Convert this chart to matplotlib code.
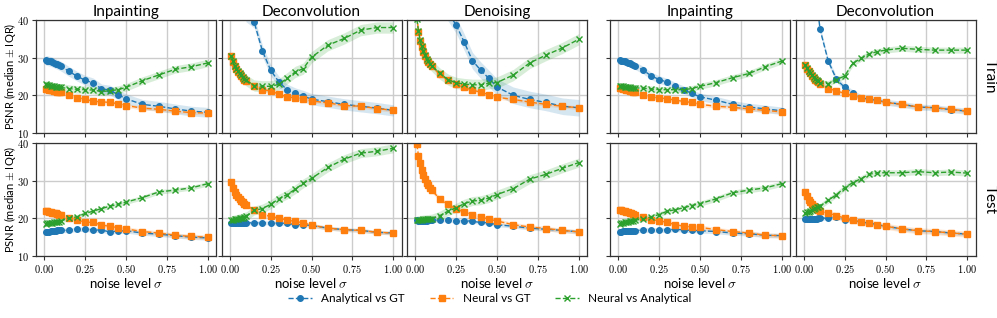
import matplotlib
matplotlib.use("Agg")
import matplotlib.pyplot as plt
import numpy as np

plt.rcParams['font.family'] = ['Lato', 'DejaVu Sans']
plt.rcParams['mathtext.fontset'] = 'cm'

# --- noise levels (shared by every panel) ---
sigma = [0.01, 0.02, 0.03, 0.04, 0.05, 0.06, 0.07, 0.08, 0.09, 0.10,
         0.15, 0.20, 0.25, 0.30, 0.35, 0.40, 0.45, 0.50,
         0.60, 0.70, 0.80, 0.90, 1.00]

titles = ['Inpainting', 'Deconvolution', 'Denoising', 'Inpainting', 'Deconvolution']
rows = ['Train', 'Test']
labels = ['Analytical vs GT', 'Neural vs GT', 'Neural vs Analytical']

# --- Train row: medians ---
tr_ana_1 = [29.3, 29.2, 29.1, 29.0, 28.8, 28.6, 28.4, 28.2, 28.0, 27.8, 26.4, 25.1, 24.0, 23.3, 21.7, 21.4, 20.2, 19.1, 17.6, 17.1, 16.4, 15.8, 15.5]
tr_neu_1 = [21.8, 21.6, 21.5, 21.4, 21.3, 21.2, 21.1, 21.0, 20.9, 20.8, 20.2, 19.4, 19.0, 18.4, 18.3, 18.1, 17.8, 17.3, 16.6, 16.3, 15.8, 15.4, 15.3]
tr_na_1 = [22.9, 22.8, 22.7, 22.6, 22.5, 22.4, 22.3, 22.2, 22.2, 22.1, 21.8, 21.6, 21.5, 21.4, 21.0, 21.2, 21.5, 22.1, 23.9, 25.4, 26.9, 27.6, 28.6]

tr_ana_2 = [70, 64, 60, 57, 54, 51, 48, 45, 43, 41, 39.4, 31.8, 26.7, 23.6, 21.5, 20.5, 19.8, 19.0, 18.3, 17.6, 17.1, 16.6, 16.0]
tr_neu_2 = [30.4, 28.9, 27.8, 27.0, 26.2, 25.6, 25.1, 24.6, 24.2, 23.8, 22.6, 21.5, 21.2, 20.3, 19.6, 19.3, 19.1, 18.5, 18.0, 17.3, 17.1, 16.5, 16.0]
tr_na_2 = [30.5, 29.0, 27.9, 27.1, 26.4, 25.8, 25.3, 24.8, 24.4, 24.0, 22.6, 22.4, 22.4, 22.9, 24.5, 26.2, 27.1, 30.1, 33.3, 35.1, 37.3, 38.0, 38.0]

tr_ana_3 = [90, 85, 80, 75, 70, 65, 60, 57, 54, 52, 47, 42, 38.7, 34.1, 29.2, 26.7, 24.5, 22.2, 20.0, 18.9, 18.1, 17.1, 16.7]
tr_neu_3 = [41.0, 36.9, 34.5, 32.8, 31.5, 30.4, 29.5, 28.8, 28.2, 27.7, 25.6, 24.0, 22.9, 22.1, 21.4, 20.8, 20.2, 19.5, 18.9, 18.2, 17.6, 17.1, 16.7]
tr_na_3 = [40.3, 37.1, 34.7, 33.0, 31.7, 30.6, 29.7, 29.0, 28.4, 27.9, 25.8, 24.2, 23.3, 23.0, 22.8, 22.8, 23.2, 23.4, 25.4, 28.6, 30.7, 32.6, 34.9]

tr_ana_4 = [29.3, 29.2, 29.1, 29.0, 28.9, 28.7, 28.5, 28.3, 28.1, 27.9, 26.8, 25.2, 24.2, 23.5, 22.4, 21.5, 20.5, 19.6, 18.7, 17.6, 16.9, 16.4, 15.9]
tr_neu_4 = [22.0, 21.9, 21.7, 21.6, 21.5, 21.3, 21.2, 21.1, 20.9, 20.8, 20.0, 19.6, 19.3, 19.1, 18.7, 18.4, 18.1, 17.6, 17.1, 16.8, 16.4, 16.0, 15.6]
tr_na_4 = [22.6, 22.5, 22.4, 22.3, 22.2, 22.1, 22.1, 22.0, 22.0, 22.0, 21.9, 21.7, 21.5, 21.5, 21.5, 21.5, 21.8, 22.4, 23.4, 24.7, 25.8, 27.6, 29.1]

tr_ana_5 = [75, 68, 62, 57, 53, 49, 47, 45, 41.2, 37.5, 29.1, 24.3, 22.1, 20.7, 19.4, 18.9, 18.7, 18.2, 17.6, 16.9, 16.7, 16.2, 15.8]
tr_neu_5 = [28.0, 27.1, 26.4, 25.8, 25.2, 24.6, 24.2, 23.8, 23.5, 23.1, 21.8, 21.2, 20.5, 19.9, 19.3, 18.9, 18.7, 18.1, 17.6, 16.9, 16.7, 16.3, 15.8]
tr_na_5 = [28.1, 27.2, 26.5, 25.9, 25.3, 24.8, 24.4, 24.0, 23.7, 23.3, 23.1, 24.2, 25.1, 28.5, 29.8, 31.0, 31.6, 32.0, 32.5, 32.2, 32.0, 32.0, 32.0]

# --- Test row: medians ---
te_ana_1 = [16.4, 16.5, 16.5, 16.6, 16.6, 16.7, 16.7, 16.8, 16.8, 16.8, 16.8, 17.1, 17.1, 16.9, 16.9, 16.4, 16.6, 16.7, 16.1, 15.8, 15.4, 15.0, 14.8]
te_neu_1 = [22.0, 21.9, 21.8, 21.7, 21.5, 21.4, 21.3, 21.1, 21.0, 20.8, 20.2, 19.6, 19.0, 18.9, 18.2, 17.9, 17.5, 17.2, 16.5, 16.1, 15.5, 15.2, 15.0]
te_na_1 = [18.6, 18.7, 18.7, 18.8, 18.8, 18.9, 19.0, 19.0, 19.1, 19.2, 20.1, 20.4, 21.3, 21.9, 22.6, 23.2, 23.7, 24.3, 25.5, 27.0, 27.5, 28.1, 29.2]

te_ana_2 = [18.7, 18.7, 18.7, 18.7, 18.7, 18.7, 18.7, 18.7, 18.7, 18.8, 18.8, 18.8, 18.8, 18.7, 18.7, 18.3, 18.3, 18.1, 17.4, 17.0, 16.8, 16.3, 16.1]
te_neu_2 = [29.6, 28.1, 27.1, 26.3, 25.7, 25.2, 24.7, 24.3, 23.9, 23.6, 22.1, 21.0, 20.5, 20.1, 19.5, 19.2, 18.8, 18.2, 17.4, 17.0, 16.8, 16.3, 16.1]
te_na_2 = [19.5, 19.6, 19.7, 19.8, 19.9, 20.0, 20.1, 20.2, 20.4, 20.5, 22.1, 22.6, 23.7, 25.2, 26.3, 27.7, 29.3, 30.6, 33.5, 35.7, 37.3, 37.8, 38.6]

te_ana_3 = [19.5, 19.4, 19.4, 19.4, 19.4, 19.4, 19.4, 19.5, 19.5, 19.5, 19.5, 19.6, 19.2, 19.4, 19.2, 18.9, 18.8, 18.3, 17.9, 17.4, 17.1, 16.8, 16.4]
te_neu_3 = [39.7, 36.6, 34.6, 32.9, 31.4, 30.4, 29.5, 28.8, 28.1, 27.5, 25.2, 23.7, 22.5, 21.6, 21.0, 20.4, 19.8, 19.3, 18.3, 17.7, 17.3, 16.8, 16.4]
te_na_3 = [19.5, 19.5, 19.6, 19.6, 19.7, 19.7, 19.8, 19.8, 19.9, 19.9, 20.7, 21.9, 22.8, 23.9, 24.6, 24.8, 25.4, 26.3, 27.9, 30.4, 31.7, 33.3, 34.8]

te_ana_4 = [16.5, 16.5, 16.6, 16.6, 16.6, 16.7, 16.7, 16.7, 16.7, 16.7, 16.9, 16.9, 16.9, 16.9, 17.1, 16.9, 16.8, 16.7, 16.5, 16.1, 15.9, 15.5, 15.4]
te_neu_4 = [22.3, 22.2, 22.0, 21.9, 21.8, 21.6, 21.5, 21.3, 21.2, 21.0, 20.4, 19.6, 19.4, 18.9, 18.3, 17.9, 17.7, 17.6, 17.0, 16.5, 16.1, 15.5, 15.4]
te_na_4 = [18.6, 18.7, 18.8, 18.9, 19.0, 19.1, 19.2, 19.3, 19.4, 19.5, 19.8, 20.4, 21.0, 21.9, 22.3, 22.8, 23.4, 23.9, 25.2, 26.8, 27.5, 28.1, 29.2]

te_ana_5 = [19.9, 19.9, 19.9, 19.9, 19.9, 19.9, 19.9, 19.9, 20.0, 20.0, 20.1, 20.4, 19.6, 19.6, 18.9, 18.8, 18.3, 17.9, 17.2, 16.7, 16.5, 16.1, 15.8]
te_neu_5 = [27.0, 25.9, 25.0, 24.3, 23.7, 23.2, 22.8, 22.5, 22.1, 21.9, 21.4, 20.7, 20.1, 19.6, 18.9, 18.8, 18.3, 17.9, 17.2, 16.7, 16.5, 16.1, 15.8]
te_na_5 = [21.4, 21.6, 21.8, 22.0, 22.3, 22.5, 22.7, 22.9, 23.0, 23.2, 24.8, 26.3, 28.1, 29.5, 30.5, 31.7, 32.1, 32.1, 32.1, 32.4, 32.1, 32.3, 32.0]

# --- half IQR (band half-width) per panel ---
tr_iqr_ana = [1.3, 1.5, 2.2, 1.0, 0.8]
tr_iqr_neu = [0.5, 0.5, 0.5, 0.5, 0.5]
tr_iqr_na = [1.0, 1.5, 1.5, 0.8, 0.8]
te_iqr_ana = [0.6, 0.5, 0.5, 0.6, 0.5]
te_iqr_neu = [0.6, 0.5, 0.6, 0.6, 0.8]
te_iqr_na = [0.6, 1.2, 1.2, 0.7, 0.8]

train = [(tr_ana_1, tr_neu_1, tr_na_1), (tr_ana_2, tr_neu_2, tr_na_2), (tr_ana_3, tr_neu_3, tr_na_3),
         (tr_ana_4, tr_neu_4, tr_na_4), (tr_ana_5, tr_neu_5, tr_na_5)]
test = [(te_ana_1, te_neu_1, te_na_1), (te_ana_2, te_neu_2, te_na_2), (te_ana_3, te_neu_3, te_na_3),
        (te_ana_4, te_neu_4, te_na_4), (te_ana_5, te_neu_5, te_na_5)]
iqr = [(tr_iqr_ana, tr_iqr_neu, tr_iqr_na), (te_iqr_ana, te_iqr_neu, te_iqr_na)]

colors = ['#1f77b4', '#ff7f0e', '#2ca02c']
markers = ['o', 's', 'x']

# --- layout (pixels of a 997x318 figure) ---
W, H = 997, 318
fig = plt.figure(figsize=(W / 100, H / 100), dpi=100)
lefts = [36, 221.5, 407, 610, 795.5]
pw, ph = 180, 113
tops = [20, 143]

x = np.array(sigma)
handles = []
for r, data in enumerate([train, test]):
    for c in range(5):
        ax = fig.add_axes([lefts[c] / W, 1 - (tops[r] + ph) / H, pw / W, ph / H])
        for k in range(3):
            y = np.array(data[c][k])
            w = iqr[r][k][c]
            ax.fill_between(x, y - w, y + w, color=colors[k], alpha=0.18, lw=0)
            h, = ax.plot(x, y, ls='--', lw=1.0, color=colors[k], marker=markers[k],
                         ms=4 if k < 2 else 4.5, mew=1.0, label=labels[k])
            if r == 0 and c == 0:
                handles.append(h)
        ax.set_ylim(10, 40)
        ax.set_xlim(-0.05, 1.05)
        ax.set_xticks([0, 0.25, 0.5, 0.75, 1.0])
        ax.set_yticks([10, 20, 30, 40])
        ax.grid(True, color='#cccccc', lw=1.0)
        ax.set_axisbelow(True)
        for s in ax.spines.values():
            s.set_color('#333333')
            s.set_linewidth(0.9)
        ax.tick_params(length=3, width=0.8, pad=2, colors='#333333', labelcolor='black', labelsize=7.5)
        if r == 1:
            ax.set_xticklabels(['$%.2f$' % v for v in [0, 0.25, 0.5, 0.75, 1.0]])
            ax.set_xlabel(r'noise level $\sigma$', fontsize=9.5, labelpad=1)
        else:
            ax.set_xticklabels([])
            ax.set_title(titles[c], fontsize=11, pad=3)
        if c == 0:
            ax.set_yticklabels(['$%d$' % v for v in [10, 20, 30, 40]])
            ax.set_ylabel(r'PSNR (median $\pm$ IQR)', fontsize=8)
            ax.yaxis.set_label_coords(-0.1, 0.5)
        else:
            ax.set_yticklabels([])
        if c == 4:
            ax.text(1.04, 0.5, rows[r], transform=ax.transAxes, rotation=270,
                    ha='left', va='center', fontsize=11)

fig.legend(handles=handles, loc='center', bbox_to_anchor=(490 / W, 1 - 299 / H), ncol=3,
           frameon=False, fontsize=8.5, handlelength=2.0, columnspacing=2.1)

fig.savefig('out.png', dpi=100)
